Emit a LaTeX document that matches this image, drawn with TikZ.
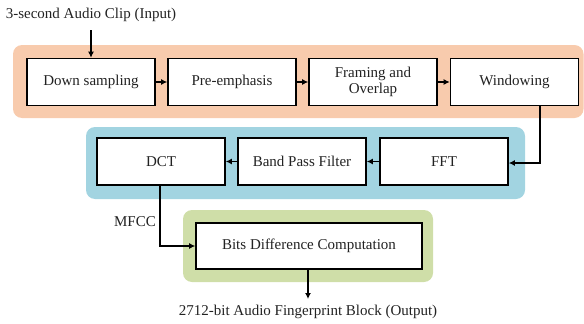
\documentclass[tikz,border=0pt]{standalone}
\usepackage{fontspec}
\setmainfont{Liberation Serif}
\usetikzlibrary{arrows.meta,calc}
\definecolor{bandorange}{HTML}{F8CBAD}
\definecolor{bandblue}{HTML}{A2D4E1}
\definecolor{bandgreen}{HTML}{CFDEA8}
\definecolor{txt}{HTML}{222222}
\begin{document}
\begin{tikzpicture}[x=1pt,y=-1pt,
  font=\fontsize{15}{17}\selectfont,
  procbox/.style={draw=black, fill=white, line width=1.6pt, minimum width=128pt, minimum height=47pt, inner sep=0pt, align=center, text=txt},
  band/.style={rounded corners=9pt},
  conn/.style={line width=1.8pt, -{Latex[length=6pt,width=6pt]}},
  lbl/.style={text=txt, inner sep=0pt}]
\useasboundingbox (0,0) rectangle (584,324);
% bands
\fill[bandorange, band] (13,45) rectangle (583.5,118);
\fill[bandblue, band] (86,127) rectangle (525,199);
\fill[bandgreen, band] (183,210) rectangle (433,282);
% boxes
\node[procbox] (ds) at (91,82) {Down sampling};
\node[procbox] (pe) at (232,82) {Pre-emphasis};
\node[procbox] (fo) at (373,82) {Framing and\\[-1pt]Overlap};
\node[procbox] (wi) at (514.5,82) {Windowing};
\node[procbox] (dct) at (161,161.5) {DCT};
\node[procbox] (bpf) at (302,161.5) {Band Pass Filter};
\node[procbox] (fft) at (444,161.5) {FFT};
\node[procbox, minimum width=226pt, minimum height=46pt] (bdc) at (309,246) {Bits Difference Computation};
% labels
\node[lbl] (in) at (91,15) {3-second Audio Clip (Input)};
\node[lbl] (out) at (308,312) {2712-bit Audio Fingerprint Block (Output)};
\node[lbl] (mfcc) at (135,222) {MFCC};
\coordinate (inStart) at (91,30);
\coordinate (outEnd) at (308,299);
\coordinate (wiTurn) at (540,163);
\coordinate (dctTurn) at (160,246);
% connectors
\draw[conn] (inStart) -- (ds.north);
\draw[conn] (ds) -- (pe);
\draw[conn] (pe) -- (fo);
\draw[conn] (fo) -- (wi);
\draw[conn] (wi.south -| wiTurn) -- (wiTurn) -- (fft.east |- wiTurn);
\draw[conn] (fft) -- (bpf);
\draw[conn] (bpf) -- (dct);
\draw[conn] (dct.south -| dctTurn) -- (dctTurn) -- (bdc.west);
\draw[conn] (bdc.south -| outEnd) -- (outEnd);
\end{tikzpicture}
\end{document}
